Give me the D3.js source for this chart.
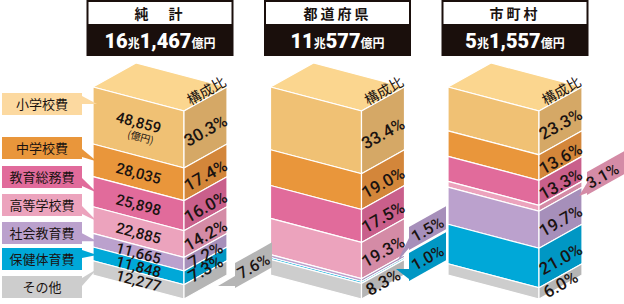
<!DOCTYPE html>
<html>
<head>
<meta charset="utf-8">
<script src="https://cdn.jsdelivr.net/npm/d3@7"></script>
<style>
body { margin: 0; background: #fff; }
svg { display: block; }
text { font-family: "Noto Sans CJK JP", sans-serif; fill: #1a1311; }
.num { font-family: Roboto, "Noto Sans", sans-serif; }
</style>
</head>
<body>
<svg id="chart" width="624" height="304"></svg>
<script>
// categories, top of the box to the bottom
var categories = ['小学校費', '中学校費', '教育総務費', '高等学校費', '社会教育費', '保健体育費', 'その他'];
var columns = ['純　計', '都道府県', '市町村'];

// totals: 兆 part and 億 part
var totalChou = [16, 11, 5];
var totalOku = [1467, 577, 1557];

// composition (%) per column
var shareTotal = [30.3, 17.4, 16.0, 14.2, 7.2, 7.3, 7.6];
var sharePref = [33.4, 19.0, 17.5, 19.3, 1.5, 1.0, 8.3];
var shareMuni = [23.3, 13.6, 13.3, 3.1, 19.7, 21.0, 6.0];

// amounts for 純計 (億円)
var amountsTotal = [48859, 28035, 25898, 22885, 11665, 11848, 12277];

// segments whose share is printed outside the box
var outsideTotal = [6];
var outsidePref = [4, 5];
var outsideMuni = [3];

// colours
var frontColor = ['#f0c174', '#e9963b', '#e16b9b', '#eca3bd', '#bba1cd', '#00a8d8', '#cdcdcd'];
var sideColor = ['#d5a866', '#d3863a', '#c95f8b', '#d48ba6', '#a68fba', '#0097c4', '#b5b5b5'];
var labelColor = ['#fcd9a0', '#e9963b', '#e16b9b', '#eca3bd', '#bba1cd', '#00a8d8', '#cdcdcd'];
var topColor = '#fbd68f';

var svg = d3.select('#chart');

// box geometry
var W = 91, DX = 43, DY = 24, T = 87, H = 188;
var x = d3.scalePoint().domain(columns).range([93, 448]);
var y = d3.scaleLinear().domain([0, 100]).range([0, H]);
var angFront = Math.atan2(DY, W) * 180 / Math.PI;
var angSide = -Math.atan2(DY, DX) * 180 / Math.PI;
var fmt = d3.format(',');

var shares = [shareTotal, sharePref, shareMuni];
var outside = [outsideTotal, outsidePref, outsideMuni];

function pts(a) { return a.map(function(p) { return p.join(','); }).join(' '); }

// header boxes
columns.forEach(function(c, ci) {
  var cx = x(c) + (W + DX) / 2;
  var g = svg.append('g');
  g.append('rect').attr('x', cx - 73.5).attr('y', 0).attr('width', 147).attr('height', 56).attr('fill', '#1a0f0c');
  g.append('rect').attr('x', cx - 71.5).attr('y', 2).attr('width', 143).attr('height', 22).attr('fill', '#fff');
  g.append('text').attr('x', cx).attr('y', 18.5).attr('text-anchor', 'middle')
    .style('font-size', '14px').style('font-weight', 'bold').style('letter-spacing', '3px')
    .text(c);
  var t = g.append('text').attr('x', cx).attr('y', 48).attr('text-anchor', 'middle').style('font-weight', 'bold');
  t.append('tspan').attr('class', 'num').style('font-size', '20px').style('fill', '#fff').style('font-weight', '900').text(totalChou[ci]);
  t.append('tspan').style('font-size', '12px').style('fill', '#fff').text('兆');
  t.append('tspan').attr('class', 'num').style('font-size', '20px').style('fill', '#fff').style('font-weight', '900').text(fmt(totalOku[ci]));
  t.append('tspan').style('font-size', '12px').style('fill', '#fff').text('億円');
});

// boxes
columns.forEach(function(c, ci) {
  var x0 = x(c);
  var vals = shares[ci];
  var cum = [0].concat(Array.from(d3.cumsum(vals)));
  var g = svg.append('g');

  // top face
  g.append('polygon')
    .attr('points', pts([[x0, T], [x0 + DX, T - DY], [x0 + W + DX, T], [x0 + W, T + DY]]))
    .attr('fill', topColor).attr('stroke', '#fff').attr('stroke-width', 1.2);

  vals.forEach(function(v, i) {
    var a = y(cum[i]), b = y(cum[i + 1]);
    g.append('polygon')
      .attr('points', pts([[x0, T + a], [x0 + W, T + DY + a], [x0 + W, T + DY + b], [x0, T + b]]))
      .attr('fill', frontColor[i]).attr('stroke', '#fff').attr('stroke-width', 1.2);
    g.append('polygon')
      .attr('points', pts([[x0 + W, T + DY + a], [x0 + W + DX, T + a], [x0 + W + DX, T + b], [x0 + W, T + DY + b]]))
      .attr('fill', sideColor[i]).attr('stroke', '#fff').attr('stroke-width', 1.2);
  });

  // 構成比
  g.append('text')
    .attr('transform', 'translate(' + (x0 + W + DX / 2 + 1) + ',' + (T + DY / 2 - 8) + ') rotate(' + angSide + ')')
    .attr('text-anchor', 'middle').attr('dy', '0.35em')
    .style('font-size', '14px')
    .text('構成比');

  // shares on the side face
  vals.forEach(function(v, i) {
    if (outside[ci].indexOf(i) >= 0) return;
    var m = y((cum[i] + cum[i + 1]) / 2);
    g.append('text').attr('class', 'num')
      .attr('transform', 'translate(' + (x0 + W + DX / 2) + ',' + (T + DY / 2 + m + 3) + ') rotate(' + angSide + ')')
      .attr('text-anchor', 'middle').attr('dy', '0.35em')
      .style('font-size', '17px').style('font-weight', '500')
      .text(v.toFixed(1) + '%');
  });
});

// amounts on the front face of 純計
(function() {
  var x0 = x(columns[0]);
  var cum = [0].concat(Array.from(d3.cumsum(shareTotal)));
  amountsTotal.forEach(function(v, i) {
    var m = y((cum[i] + cum[i + 1]) / 2);
    var tx = x0 + W / 2, ty = T + DY / 2 + m + (i === 0 ? -5 : 1);
    svg.append('text').attr('class', 'num')
      .attr('transform', 'translate(' + tx + ',' + ty + ') rotate(' + angFront + ')')
      .attr('text-anchor', 'middle').attr('dy', '0.35em')
      .style('font-size', '15px').style('font-weight', '500')
      .text(fmt(v));
    if (i === 0) {
      svg.append('text')
        .attr('transform', 'translate(' + (tx + 2) + ',' + (ty + 15) + ') rotate(' + angFront + ')')
        .attr('text-anchor', 'middle').attr('dy', '0.35em')
        .style('font-size', '10px')
        .text('(億円)');
    }
  });
})();

// callouts for thin segments
var calloutPos = [
  [{ x: 235, y: 263, h: 25, w: 37, tip: [218, 286] }],
  [{ x: 409, y: 227, h: 23, w: 37, tip: [397, 262] }, { x: 409, y: 253, h: 28, w: 37, tip: [396, 269] }],
  [{ x: 587, y: 172, h: 23, w: 37, tip: [579, 196], shift: -3 }]
];
columns.forEach(function(c, ci) {
  outside[ci].forEach(function(idx, k) {
    var p = calloutPos[ci][k];
    var w = p.w, rise = w * DY / DX;
    var g = svg.append('g');
    g.append('polygon')
      .attr('points', pts([[p.x, p.y + p.h - 12], [p.tip[0], p.tip[1]], [p.x, p.y + p.h - 2]]))
      .attr('fill', sideColor[idx]);
    g.append('polygon')
      .attr('points', pts([[p.x, p.y], [p.x + w, p.y - rise], [p.x + w, p.y - rise + p.h], [p.x, p.y + p.h]]))
      .attr('fill', sideColor[idx]);
    var s = p.shift || 0;
    g.append('text').attr('class', 'num')
      .attr('transform', 'translate(' + (p.x + w / 2 + s) + ',' + (p.y - rise / 2 + p.h / 2 + 1 - s * DY / DX) + ') rotate(' + angSide + ')')
      .attr('text-anchor', 'middle').attr('dy', '0.35em')
      .style('font-size', '16px').style('font-weight', '500')
      .text(shares[ci][idx].toFixed(1) + '%');
  });
});

// legend balloons on the left
var labelTop = [93, 137, 166, 194, 222, 248, 276];
(function() {
  var cum = [0].concat(Array.from(d3.cumsum(shareTotal)));
  categories.forEach(function(cat, i) {
    var by = labelTop[i], bh = 22;
    var segA = T + y(cum[i]) + 1.1, segB = T + y(cum[i + 1]) + 1.1;
    var tipY = Math.max(segA + 5, Math.min((segA + segB) / 2, by + bh + 8));
    if (i === 0) tipY = by + 11;
    var b0 = Math.max(by + 2, Math.min(tipY - 8, by + bh - 10));
    var g = svg.append('g');
    g.append('polygon')
      .attr('points', pts([[82, b0], [97, tipY], [82, b0 + 8]]))
      .attr('fill', labelColor[i]);
    g.append('rect').attr('x', 2).attr('y', by).attr('width', 80).attr('height', bh).attr('fill', labelColor[i]);
    g.append('text').attr('x', 42).attr('y', by + bh / 2).attr('dy', '0.36em')
      .attr('text-anchor', 'middle').style('font-size', '13px')
      .text(cat);
  });
})();
</script>
</body>
</html>
